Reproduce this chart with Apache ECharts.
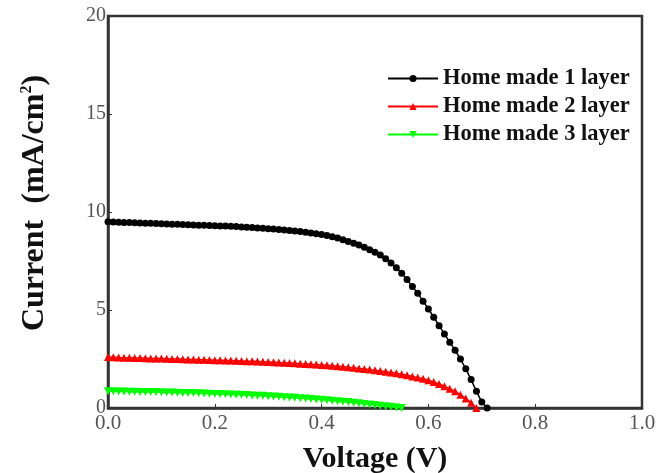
<!DOCTYPE html>
<html style="height: 100%">
<head>
    <meta charset="utf-8">
</head>
<body style="height: 100%; margin: 0; background: #fff">
<div id="container" style="width: 671px; height: 473px"></div>
<script src="https://cdn.jsdelivr.net/npm/echarts@6/dist/echarts.min.js"></script>
<script type="text/javascript">
    // J-V curves, voltage step 0.01 V
    var seriesNames = ['Home made 1 layer', 'Home made 2 layer', 'Home made 3 layer'];
    var layer1 = [9.50, 9.49, 9.48, 9.47, 9.46, 9.45, 9.44, 9.43, 9.42, 9.41,
                  9.40, 9.39, 9.38, 9.37, 9.36, 9.35, 9.34, 9.33, 9.32, 9.31,
                  9.30, 9.29, 9.28, 9.27, 9.26, 9.24, 9.22, 9.21, 9.19, 9.17,
                  9.15, 9.13, 9.11, 9.08, 9.06, 9.03, 9.00, 8.97, 8.93, 8.89,
                  8.85, 8.80, 8.74, 8.67, 8.59, 8.50, 8.41, 8.31, 8.20, 8.08,
                  7.95, 7.80, 7.62, 7.40, 7.15, 6.88, 6.55, 6.20, 5.85, 5.45,
                  5.05, 4.63, 4.20, 3.78, 3.35, 2.95, 2.50, 2.00, 1.45, 0.85,
                  0.30, 0.00];
    var layer2 = [2.60, 2.59, 2.58, 2.57, 2.56, 2.55, 2.55, 2.54, 2.53, 2.53,
                  2.52, 2.51, 2.50, 2.50, 2.49, 2.48, 2.47, 2.46, 2.46, 2.45,
                  2.44, 2.43, 2.42, 2.42, 2.41, 2.40, 2.39, 2.38, 2.37, 2.36,
                  2.35, 2.34, 2.32, 2.31, 2.29, 2.28, 2.26, 2.25, 2.23, 2.22,
                  2.20, 2.18, 2.15, 2.13, 2.11, 2.08, 2.05, 2.02, 1.99, 1.96,
                  1.92, 1.89, 1.85, 1.81, 1.77, 1.72, 1.67, 1.61, 1.55, 1.49,
                  1.42, 1.33, 1.23, 1.11, 0.98, 0.85, 0.68, 0.48, 0.27, 0.00];
    var layer3 = [0.85, 0.85, 0.84, 0.84, 0.83, 0.83, 0.82, 0.82, 0.81, 0.81,
                  0.80, 0.79, 0.79, 0.78, 0.77, 0.76, 0.76, 0.75, 0.74, 0.73,
                  0.72, 0.71, 0.70, 0.69, 0.68, 0.67, 0.66, 0.64, 0.63, 0.62,
                  0.60, 0.59, 0.57, 0.55, 0.54, 0.52, 0.50, 0.48, 0.46, 0.44,
                  0.42, 0.40, 0.37, 0.35, 0.32, 0.30, 0.27, 0.24, 0.21, 0.18,
                  0.15, 0.12, 0.09, 0.06, 0.03, 0.00];
    var colors = ['#000000', '#ff0000', '#00ff00'];
    var symbols = ['circle', 'triangle', 'path://M0,0 L10,0 L5,9 Z'];

    function toPoints(arr) {
        var pts = [];
        for (var i = 0; i < arr.length; i++) {
            pts.push([i / 100, arr[i]]);
        }
        return pts;
    }

    var dom = document.getElementById("container");
    var myChart = echarts.init(dom, null, {renderer: 'canvas'});
    var serif = '"Liberation Serif", "Times New Roman", serif';

    var allData = [layer1, layer2, layer3];
    var series = [];
    for (var k = 0; k < 3; k++) {
        series.push({
            name: seriesNames[k],
            type: 'line',
            data: toPoints(allData[k]),
            symbol: symbols[k],
            symbolSize: k === 0 ? 7 : 8,
            showAllSymbol: true,
            clip: false,
            itemStyle: {color: colors[k]},
            lineStyle: {color: colors[k], width: 1.5},
            z: 3 - k
        });
    }

    var option = {
        animation: false,
        backgroundColor: '#fff',
        grid: {
            left: 108, right: 29, top: 16, bottom: 65,
            show: true, borderColor: '#333', borderWidth: 2.5,
            containLabel: false,
            outerBoundsMode: 'none'
        },
        legend: {
            orient: 'vertical',
            left: 382, top: 62,
            itemWidth: 50, itemHeight: 9, itemGap: 5,
            data: seriesNames,
            textStyle: {fontFamily: serif, fontWeight: 'bold', fontSize: 22.5, lineHeight: 20, color: '#111'}
        },
        xAxis: {
            type: 'value', min: 0, max: 1, interval: 0.2,
            name: 'Voltage (V)', nameLocation: 'middle', nameGap: 36,
            nameTextStyle: {fontFamily: serif, fontWeight: 'bold', fontSize: 30, color: '#111'},
            axisLine: {show: true, lineStyle: {color: '#333', width: 2.5}},
            axisTick: {show: true, inside: true, length: 4, lineStyle: {color: '#333'}},
            splitLine: {show: false},
            axisLabel: {fontFamily: serif, fontSize: 21, color: '#555', margin: 5,
                formatter: function (v) { return v.toFixed(1); }}
        },
        yAxis: {
            type: 'value', min: 0, max: 20, interval: 5,
            name: 'Current  (mA/cm{sup|2})', nameLocation: 'middle', nameGap: 57,
            nameTextStyle: {fontFamily: serif, fontWeight: 'bold', fontSize: 32, color: '#111',
                padding: [0, 0, 0, 18],
                rich: {sup: {fontFamily: serif, fontWeight: 'bold', fontSize: 16, color: '#111', verticalAlign: 'top', padding: [0, 0, 14, 0]}}},
            axisLine: {show: true, lineStyle: {color: '#333', width: 2.5}},
            axisTick: {show: true, inside: true, length: 4, lineStyle: {color: '#333'}},
            splitLine: {show: false},
            axisLabel: {fontFamily: serif, fontSize: 20, color: '#555', margin: 2}
        },
        series: series
    };

    myChart.setOption(option);
</script>
</body>
</html>
